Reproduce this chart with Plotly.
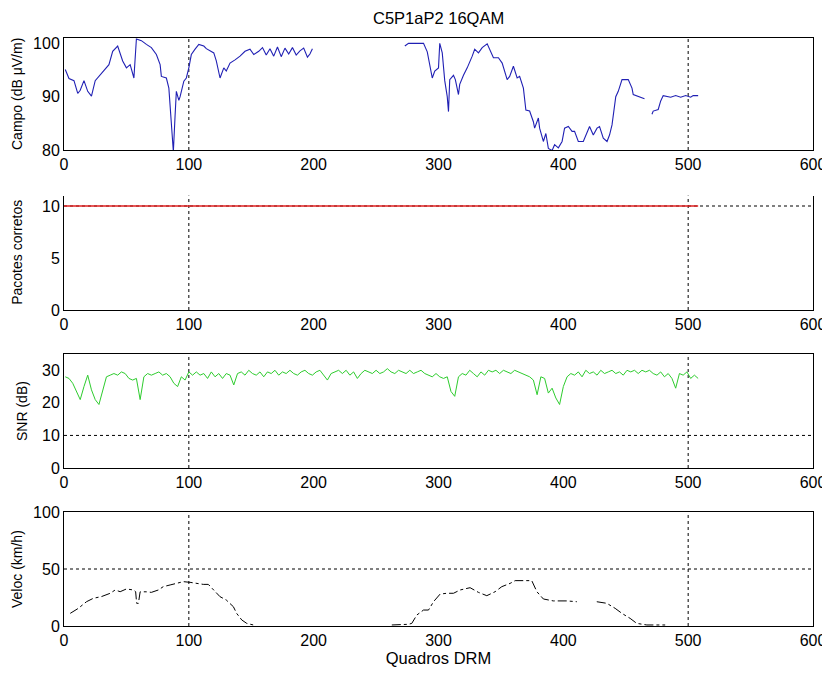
import plotly.graph_objects as go

# ---------------- data ----------------
title_text = "C5P1aP2 16QAM"
x_label = "Quadros DRM"
y_labels = ["Campo (dB \u03bcV/m)", "Pacotes corretos", "SNR (dB)", "Veloc (km/h)"]
x_ticks = [0, 100, 200, 300, 400, 500, 600]

campo_x = [1, 4, 8, 11, 13, 16, 19, 22, 25, 28, 32, 36, 39, 43, 47, 50, 53, 56, 58, 62,
           66, 70, 74, 77, 78, 82, 84, 85, 86, 87.6, 89, 90, 92, 93, 96, 98, 100, 102, 105, 108,
           112, 114, 120, 122, 125, 128, 130, 133, 137, 141, 145, 149, 152, 156, 159, 162, 165, 168, 171, 174,
           177, 180, 183, 186, 189, 192, 195, 197, 199, 200,
           273, 276, 284, 288, 291, 293, 295, 297, 300, 301, 303, 305, 307, 308, 309, 312, 313.5, 316, 317, 320,
           323, 327, 329, 332, 335, 339, 341, 344, 348, 351, 355, 357, 360, 363, 365, 368, 370, 373, 376, 377,
           380, 381, 384, 386, 388, 391, 393, 396, 399, 401, 404, 407, 409, 412, 416, 419, 421, 424, 427, 429,
           432, 435, 437, 439, 440, 442, 444, 447, 452, 455, 456, 460, 462, 465, 467,
           471, 472, 476, 478, 480, 486, 490, 494, 498, 502, 504, 508]
campo_y = [95.1, 93.4, 93.0, 90.6, 91.2, 93.0, 91.0, 90.1, 93.0, 93.8, 94.8, 96.0, 98.5, 99.5, 96.7, 95.4, 96.0, 93.5, 100.8, 100.5,
           99.8, 99.2, 97.9, 96.0, 93.8, 93.5, 91.6, 88.5, 84.7, 79.7, 86.5, 91.0, 89.3, 90.0, 92.9, 93.5, 95.4, 97.9, 98.9, 99.8,
           99.5, 99.0, 98.2, 96.7, 93.5, 95.4, 94.8, 96.3, 96.9, 97.6, 98.5, 98.9, 97.9, 98.5, 99.2, 97.8, 99.0, 97.6, 99.3, 97.5,
           99.1, 98.0, 99.2, 97.8, 98.6, 99.1, 97.4, 98.0, 99.0, None,
           99.5, 100.0, 100.0, 100.0, 98.4, 95.8, 93.5, 94.8, 95.4, 100.0, 98.2, 93.0, 90.0, 87.2, 93.2, 94.0, 93.2, 90.4, 92.3, 94.0,
           95.4, 97.6, 98.9, 98.2, 99.2, 99.9, 98.9, 97.3, 97.3, 96.3, 93.2, 93.8, 95.7, 93.5, 93.8, 91.6, 87.5, 87.3, 85.3, 84.1,
           86.0, 84.1, 81.6, 83.1, 80.3, 79.9, 81.0, 80.4, 81.6, 84.1, 84.4, 83.5, 83.5, 81.6, 81.6, 83.1, 84.4, 82.8, 84.1, 84.4,
           82.2, 81.6, 82.8, 84.7, 86.5, 90.0, 91.0, 93.2, 93.2, 91.6, 90.4, 90.1, 89.9, 89.6, None,
           86.7, 87.3, 87.6, 89.2, 90.2, 89.9, 90.2, 89.9, 90.2, 89.9, 90.2, 90.2]

pacotes_x = [0, 508]
pacotes_y = [10, 10]

snr_values = [28, 27.5, 26, 23.5, 21, 25, 28.5, 24, 21, 19.5, 23.5, 28, 28.5, 29, 28.5, 29.5, 29, 27.5, 27, 27.5,
              21, 28, 29, 28.5, 29, 29.5, 28.5, 29, 28, 26, 25, 28, 27, 29.5, 28.5, 29.5, 28.5, 29, 27.5, 29.5,
              28, 29, 27.5, 29, 28.5, 25.5, 29, 29.5, 28.5, 30, 29, 28.5, 29.5, 28, 29.5, 29, 30, 28.5, 29.5, 29,
              30, 29, 28.5, 29.5, 30, 29, 28.5, 29.5, 30, 28.5, 27, 29, 29.5, 30, 29, 30, 28.5, 29.5, 27.5, 29,
              30, 29.5, 29, 30, 29, 29.5, 30.5, 29.5, 29, 30, 29.5, 29, 30, 29, 29.5, 30, 29, 28.5, 28, 29,
              28, 27.5, 28, 23.5, 22, 28, 29, 28.5, 30, 29, 28, 29.5, 28.5, 30, 29.5, 30, 29, 30, 29.5, 29,
              30, 29.5, 29, 28.5, 28, 27, 22.5, 28, 27.5, 23, 24.5, 21.5, 19.5, 25, 28, 29, 28.5, 29.5, 28, 30,
              29, 29.5, 28.5, 30, 29, 29.5, 30, 29, 29.5, 28.5, 30, 29.5, 30, 29, 30, 29.5, 30, 29, 28.5, 29.5,
              28, 29, 27.5, 24.5, 29, 28.5, 29.5, 27.5, 28.5, 27.5]
snr_x = list(range(1, 1 + 3 * len(snr_values), 3))

veloc_x = [5, 11.5, 18, 23.5, 30, 37, 41, 45, 50, 55.6, 57.4, 58.2, 59.6, 61, 66, 70, 75.6, 79.5, 85, 90,
           95.6, 101, 106, 111.6, 115.6, 119.7, 125, 130, 135.7, 138.3, 142.4, 146.4, 151.7, 153,
           262.6, 269, 276, 278.6, 282.6, 288, 292, 296, 301.3, 306.6, 312, 317.3, 325.3, 332, 338.7, 345.4,
           350.7, 357.4, 361.4, 374.7, 378.8, 384, 392, 402.8, 410.8, 415,
           426.8, 434.8, 441.5, 446.9, 453.5, 458.8, 466.9, 481.6]
veloc_y = [11.1, 15.5, 21.3, 24.3, 25.8, 28.7, 31.6, 30.1, 32.5, 31.6, 30.1, 19.9, 19.9, 30.0, 30.0, 29.5, 31.6, 34.5, 36.0, 37.4,
           38.9, 38.3, 37.4, 36.5, 36.5, 31.6, 25.7, 22.8, 16.9, 11.1, 5.3, 2.3, 0.9, None,
           0.9, 0.9, 1.5, 2.3, 9.6, 14.0, 14.0, 21.3, 28.0, 28.7, 28.7, 31.6, 33.6, 29.5, 26.6, 30.1,
           34.5, 37.4, 39.8, 39.8, 30.1, 23.7, 22.0, 22.0, 21.3, None,
           21.3, 19.9, 15.5, 11.1, 6.7, 2.3, 0.9, 0.9]

y_ranges = [[80, 101], [0, 11], [0, 35], [0, 100]]
y_tickvals = [[80, 90, 100], [0, 5, 10], [0, 10, 20, 30], [0, 50, 100]]
h_grid = [[], [10], [10], [50]]
v_grid = [100, 500]

# ---------------- figure ----------------
FONT = "Liberation Sans, Arial, Helvetica, sans-serif"
OFF = 8                      # page body margin offsets the figure
W, H = 830 - OFF, 677 - OFF
ML = 64 - OFF
MR = W - (813 - OFF)
MT = 38 - OFF
MB = H - (626 - OFF)
plot_h = H - MT - MB
plot_w = W - ML - MR

def dom(top_px, bot_px):
    return [(H - MB - (bot_px - OFF)) / plot_h, (H - MB - (top_px - OFF)) / plot_h]

domains = [dom(38, 150), dom(195.6, 310), dom(354, 468), dom(512, 626)]

fig = go.Figure()
fig.add_trace(go.Scatter(x=campo_x, y=campo_y, mode="lines", line=dict(color="#2020b4", width=1.1),
                         connectgaps=False, xaxis="x", yaxis="y", showlegend=False))
fig.add_trace(go.Scatter(x=pacotes_x, y=pacotes_y, mode="lines", line=dict(color="#e02020", width=1.3),
                         xaxis="x2", yaxis="y2", showlegend=False))
fig.add_trace(go.Scatter(x=snr_x, y=snr_values, mode="lines", line=dict(color="#2ecc2e", width=1),
                         xaxis="x3", yaxis="y3", showlegend=False))
fig.add_trace(go.Scatter(x=veloc_x, y=veloc_y, mode="lines", line=dict(color="black", width=1, dash="dashdot"),
                         connectgaps=False, xaxis="x4", yaxis="y4", showlegend=False))

layout = dict(
    width=W, height=H,
    margin=dict(l=ML, r=MR, t=MT, b=MB, autoexpand=False),
    paper_bgcolor="white", plot_bgcolor="white",
    font=dict(family=FONT, size=16, color="black"),
    showlegend=False,
)
shapes = []
annotations = []
title_x_px = [17, 17, 22, 17]
for i in range(4):
    sfx = "" if i == 0 else str(i + 1)
    xa = dict(domain=[0, 1], range=[0, 600], tickvals=x_ticks, ticks="", showgrid=False, zeroline=False,
              showline=True, linecolor="black", linewidth=1, mirror=(i != 1), automargin=False,
              anchor="y" + sfx, tickfont=dict(size=16))
    ya = dict(domain=domains[i], range=y_ranges[i], tickvals=y_tickvals[i], ticks="", showgrid=False,
              zeroline=False, showline=True, linecolor="black", linewidth=1, mirror=True, automargin=False,
              anchor="x" + sfx, tickfont=dict(size=16))
    if i == 3:
        xa["title"] = dict(text=x_label, font=dict(size=16.5), standoff=2)
    layout["xaxis" + sfx] = xa
    layout["yaxis" + sfx] = ya
    for xv in v_grid:
        shapes.append(dict(type="line", xref="x" + sfx, yref="y" + sfx + " domain", x0=xv, x1=xv, y0=0, y1=1,
                           line=dict(color="black", width=1, dash="dot"), layer="below"))
    for yv in h_grid[i]:
        shapes.append(dict(type="line", xref="x" + sfx + " domain", yref="y" + sfx, x0=0, x1=1, y0=yv, y1=yv,
                           line=dict(color="black", width=1, dash="dot"), layer="below"))
    annotations.append(dict(text=y_labels[i], textangle=-90, xref="paper", yref="paper",
                            x=(title_x_px[i] - 64) / plot_w, y=sum(domains[i]) / 2,
                            xanchor="center", yanchor="middle", showarrow=False, font=dict(size=14)))

annotations.append(dict(text=title_text, xref="paper", yref="paper", x=0.5, y=(626 - 18) / plot_h,
                        xanchor="center", yanchor="middle", showarrow=False, font=dict(size=16.5)))
layout["shapes"] = shapes
layout["annotations"] = annotations
fig.update_layout(**layout)
fig.write_html("out.html")
